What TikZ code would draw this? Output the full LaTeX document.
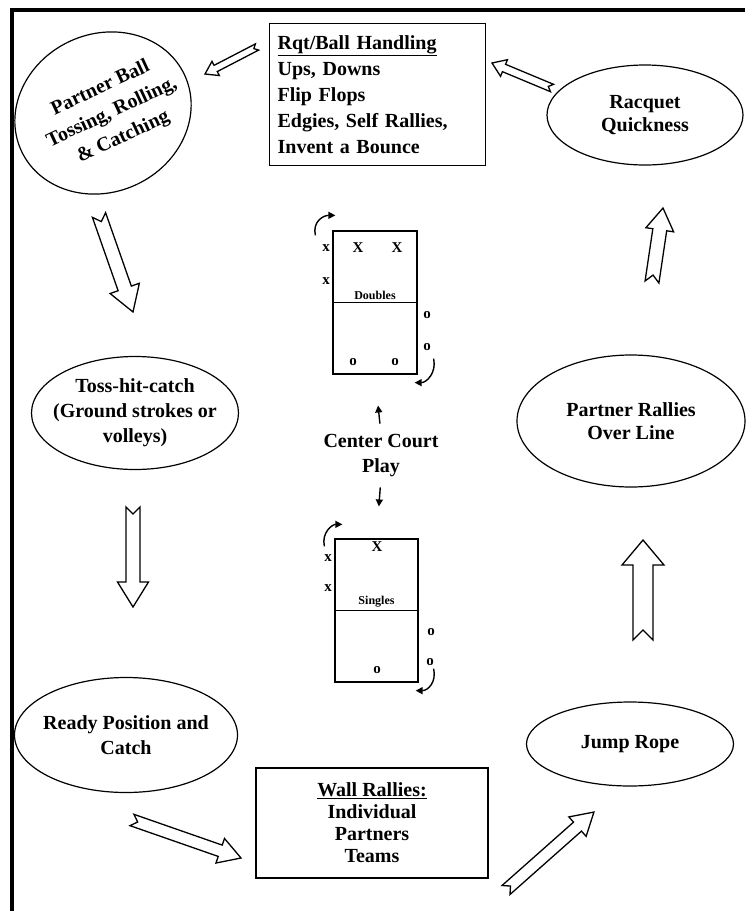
\documentclass[tikz,border=0pt]{standalone}
\usepackage{fontspec}
\setmainfont{Liberation Serif}
\usetikzlibrary{arrows.meta,positioning,shapes.geometric,calc}

% outlined block arrow with a notched tail: tail, tip, shaft half width, head half width, head length
\newcommand\hollowarrow[5]{%
  \draw[hollow] let \p1=(#1), \p2=(#2),
    \n1={atan2(\y2-\y1,\x2-\x1)}, \n2={veclen(\x2-\x1,\y2-\y1)} in
    [shift={(\p1)}, rotate=\n1]
    (0,-#3) -- (\n2-#5,-#3) -- (\n2-#5,-#4) -- (\n2,0) -- (\n2-#5,#4)
    -- (\n2-#5,#3) -- (0,#3) -- (#3,0) -- cycle;}

\begin{document}
\begin{tikzpicture}[
  x=1pt, y=-1pt,
  font=\fontsize{20}{25}\selectfont\bfseries,
  >={Triangle[length=7pt,width=7pt]},
  oval/.style={draw, ellipse, line width=1.2pt, inner sep=0pt},
  ovaltext/.style={align=center, inner sep=0pt},
  listbox/.style={draw, line width=1.2pt, inner xsep=8pt, inner ysep=6pt},
  court/.style={draw, line width=1.3pt, inner sep=0pt},
  plyr/.style={inner sep=0pt, font=\fontsize{15}{15}\selectfont\bfseries},
  courtlbl/.style={inner sep=0pt, font=\fontsize{12}{12}\selectfont\bfseries},
  hollow/.style={draw, line width=1.3pt, fill=white, line join=miter},
  turn/.style={->, line width=1.4pt},
  pointer/.style={->, line width=1.4pt},
]
\useasboundingbox (0,0) rectangle (745,911);
\draw[line width=3.5pt] (12,911) -- (12,10) -- (745,10);

% the stations round the court
\node[listbox, font=\fontsize{20}{25.8}\selectfont\bfseries, text width=200pt, align=left,
  minimum height=142pt, anchor=north west] (rot) at (269,23)
  {\underline{Rqt/Ball Handling}\\ Ups, Downs\\ Flip Flops\\ Edgies, Self Rallies,\\ Invent a Bounce};

\node[oval, minimum width=196pt, minimum height=100pt] (racq) at (645,115) {};
\node[ovaltext, font=\fontsize{20}{22.5}\selectfont\bfseries] (racqtext) at (racq) {Racquet\\ Quickness};

\node[oval, rotate=25, minimum width=180pt, minimum height=158pt] (pball) at (103,113) {};
\node[ovaltext, rotate=25, font=\fontsize{20}{27}\selectfont\bfseries] (pballtext) at (112,113)
  {Partner Ball\\ Tossing, Rolling,\\ \& Catching};

\node[oval, minimum width=207pt, minimum height=113pt] (toss) at (135,413) {};
\node[ovaltext] (tosstext) at (toss) {Toss-hit-catch\\ (Ground strokes or\\ volleys)};

\node[oval, minimum width=228pt, minimum height=132pt] (prally) at (631,421) {};
\node[ovaltext, font=\fontsize{20}{23}\selectfont\bfseries] (prallytext) at (prally) {Partner Rallies\\ Over Line};

\node[oval, minimum width=223pt, minimum height=115pt] (ready) at (126,735) {};
\node[ovaltext] (readytext) at (ready) {Ready Position and\\ Catch};

\node[oval, minimum width=207pt, minimum height=84pt] (jump) at (630,744) {};
\node[ovaltext] (jumptext) at (jump) {Jump Rope};

\node[listbox, font=\fontsize{20}{22}\selectfont\bfseries, align=center, minimum width=232pt,
  minimum height=110pt] (wall) at (372,823) {\underline{Wall Rallies:}\\ Individual\\ Partners\\ Teams};

% ends of the block arrows
\coordinate (aT) at (257,47);  \coordinate (aH) at (205,74);
\coordinate (bT) at (552,88);  \coordinate (bH) at (492,63);
\coordinate (cT) at (99,215);  \coordinate (cH) at (133,312);
\coordinate (dT) at (133,507); \coordinate (dH) at (133,607);
\coordinate (eT) at (132,820); \coordinate (eH) at (241,858);
\coordinate (fT) at (506,890); \coordinate (fH) at (594,812);
\coordinate (gT) at (643,640); \coordinate (gH) at (643,540);
\coordinate (hT) at (652,282); \coordinate (hH) at (663,208);
\hollowarrow{aT}{aH}{3.5}{8}{12}
\hollowarrow{bT}{bH}{4}{9}{13}
\hollowarrow{cT}{cH}{7}{15.5}{25}
\hollowarrow{dT}{dH}{7}{15.5}{25}
\hollowarrow{eT}{eH}{6}{13}{22}
\hollowarrow{fT}{fH}{6}{13}{22}
\hollowarrow{gT}{gH}{10}{21}{25}
\hollowarrow{hT}{hH}{7}{14}{22}

% center court diagrams
\node[court, minimum width=84pt, minimum height=143pt] (dbl) at (375,302.5) {};
\draw[line width=0.7pt] (dbl.west) -- (dbl.east);
\node[courtlbl, above=3pt of dbl.center] (dbllbl) {Doubles};
\foreach \px/\py/\t [count=\i] in {326/248/x, 358/248/X, 397/248/X, 326/281/x,
    427/315/o, 427/347/o, 353/362/o, 395/362/o}
  \node[plyr] (dp\i) at (\px,\py) {\t};
\draw[turn] ($(dbl.north west)+(-17,5)$) .. controls +(-3,-14) and +(-12,0) .. ($(dbl.north west)+(3,-15)$);
\draw[turn] ($(dbl.south east)+(16,-16)$) .. controls +(3,14) and +(12,0) .. ($(dbl.south east)+(-3,8)$);

\node[court, minimum width=83pt, minimum height=143pt] (sgl) at (376.5,610.5) {};
\draw[line width=0.7pt] (sgl.west) -- (sgl.east);
\node[courtlbl, above=3pt of sgl.center] (sgllbl) {Singles};
\foreach \px/\py/\t [count=\i] in {377/547/X, 328/558/x, 328/588/x, 431/632/o, 430/662/o, 377/670/o}
  \node[plyr] (sp\i) at (\px,\py) {\t};
\draw[turn] ($(sgl.north west)+(-10,8)$) .. controls +(-3,-14) and +(-10,0) .. ($(sgl.north west)+(8,-14)$);
\draw[turn] ($(sgl.south east)+(15,-14)$) .. controls +(3,14) and +(12,0) .. ($(sgl.south east)+(-3,8)$);

\node[align=center, inner sep=0pt] (cc) at (381,456) {Center Court\\ Play};
\draw[pointer, shorten <=11pt, shorten >=31pt] (cc.north) -- (dbl.south);
\draw[pointer, shorten <=10pt, shorten >=32pt] (cc.south) -- (sgl.north);
\end{tikzpicture}
\end{document}
